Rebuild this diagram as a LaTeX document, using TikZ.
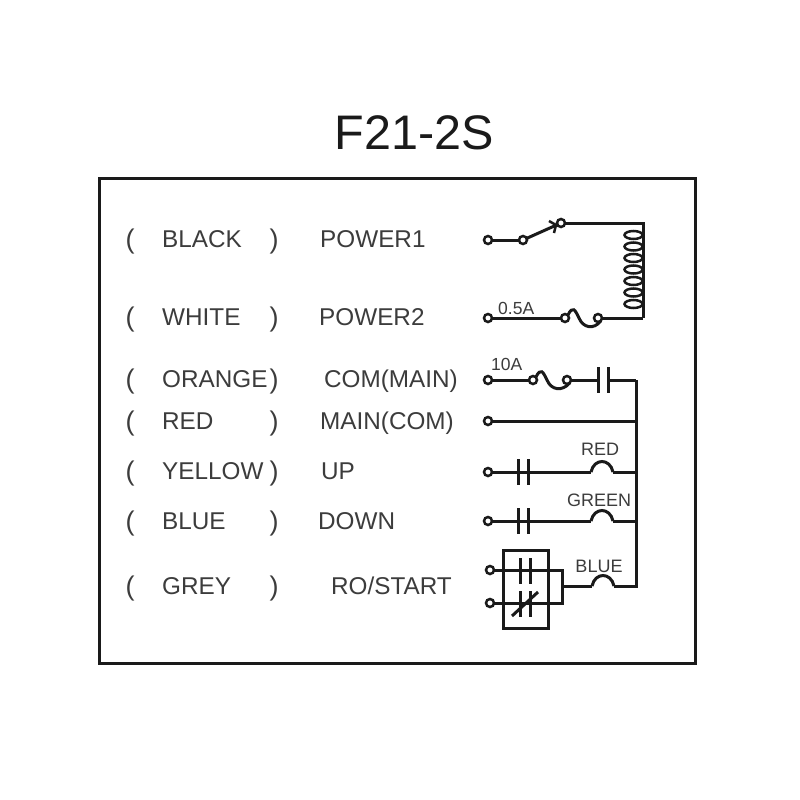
\documentclass[tikz,border=0pt]{standalone}
\usepackage{fontspec}
\setmainfont{Liberation Sans}
\definecolor{ink}{HTML}{1A1A1A}
\definecolor{txt}{HTML}{3C3C3C}
\tikzset{
  x=1pt,y=-1pt,
  wire/.style={draw=ink,line width=3pt,line join=miter},
  thin wire/.style={draw=ink,line width=2.5pt},
  term/.style={circle,draw=ink,fill=white,line width=2.5pt,minimum size=8pt,inner sep=0pt,outer sep=0pt},
  lab/.style={text=txt,font=\fontsize{24.3}{26}\selectfont,inner sep=0pt,anchor=base},
  paren/.style={text=txt,font=\fontsize{27}{29}\selectfont,inner sep=0pt,anchor=base},
  small/.style={text=txt,font=\fontsize{18}{20}\selectfont,inner sep=0pt,anchor=base},
  tiny/.style={text=txt,font=\fontsize{17.5}{19}\selectfont,inner sep=0pt,anchor=base west},
}
\newcommand{\capat}[2]{%
  \draw[wire] (#1-5,#2-13) -- (#1-5,#2+13);
  \draw[wire] (#1+5,#2-13) -- (#1+5,#2+13);}
\newcommand{\bumpat}[2]{%
  \draw[wire,fill=white] (#1,#2) .. controls (#1+3,#2-14) and (#1+19,#2-14) .. (#1+22,#2);}
\begin{document}
\begin{tikzpicture}
\useasboundingbox (0,0) rectangle (800,800);
\fill[white] (0,0) rectangle (800,800);
\node[text=ink,font=\fontsize{48.5}{52}\selectfont,inner sep=0pt,anchor=base] (title) at (414,149) {F21-2S};
\draw[draw=ink,line width=3pt] (99,178) rectangle (695,663);
\foreach \n/\y in {a/248,b/326,c/388,d/430,e/480,f/530,g/595}{
  \node[paren] (lp\n) at (130,\y) {(};
  \node[paren] (rp\n) at (274,\y) {)};
}
\node[lab,anchor=base west] (c1) at (162,247) {BLACK};
\node[lab,anchor=base west] (c2) at (162,325) {WHITE};
\node[lab,anchor=base west] (c3) at (162,387) {ORANGE};
\node[lab,anchor=base west] (c4) at (162,429) {RED};
\node[lab,anchor=base west] (c5) at (162,479) {YELLOW};
\node[lab,anchor=base west] (c6) at (162,529) {BLUE};
\node[lab,anchor=base west] (c7) at (162,594) {GREY};
\node[lab,anchor=base west] (n1) at (320,247) {POWER1};
\node[lab,anchor=base west] (n2) at (319,325) {POWER2};
\node[lab,anchor=base west] (n3) at (324,387) {COM(MAIN)};
\node[lab,anchor=base west] (n4) at (320,429) {MAIN(COM)};
\node[lab,anchor=base west] (n5) at (321,479) {UP};
\node[lab,anchor=base west] (n6) at (318,529) {DOWN};
\node[lab,anchor=base west] (n7) at (331,594) {RO/START};
% small labels
\node[tiny] (l05) at (498,314) {0.5A};
\node[tiny] (l10) at (491,370) {10A};
\node[small] (lred) at (600,455) {RED};
\node[small] (lgreen) at (599,506) {GREEN};
\node[small] (lblue) at (599,572) {BLUE};
% corners
\coordinate (tr) at (643,223);
\coordinate (br) at (643,318);
\coordinate (busT) at (636,380);
\coordinate (busB) at (636,586);
% Row 1: switch and coil
\node[term] (t1) at (488,240) {};
\node[term] (t1b) at (523,240) {};
\node[term] (t1c) at (561,223) {};
\draw[wire] (t1) -- (t1b);
\draw[wire] (t1b) -- (t1c);
\draw[thin wire] (549,221) -- (556,225) -- (554,233);
\draw[wire] (t1c) -- (tr) -- (br);
\foreach \y in {235,246.5,258,269.5,281,292.5,304}{
  \draw[thin wire] (633.5,\y) ellipse (9 and 4);
}
% Row 2: fuse
\node[term] (t2) at (488,318) {};
\node[term] (f2a) at (565,318) {};
\node[term] (f2b) at (598,318) {};
\draw[wire] (t2) -- (f2a);
\draw[wire] (f2b) -- (br);
\draw[wire] (f2a.north east) .. controls (573,305) and (575,310) .. (579,318) .. controls (583,328) and (594,330) .. (f2b.south east);
% Row 3: fuse and capacitor
\node[term] (t3) at (488,380) {};
\node[term] (f3a) at (533,380) {};
\node[term] (f3b) at (567,380) {};
\draw[wire] (t3) -- (f3a);
\draw[wire] (f3a.north east) .. controls (541,367) and (543,372) .. (547,380) .. controls (551,390) and (562,392) .. (f3b.south east);
\draw[wire] (f3b) -- (598,380);
\capat{603}{380}
\draw[wire] (608,380) -- (busT);
\draw[wire] (busT) -- (busB) -- (614,586);
% Row 4
\node[term] (t4) at (488,421) {};
\draw[wire] (t4) -- (636,421);
% Row 5
\node[term] (t5) at (488,472) {};
\draw[wire] (t5) -- (591,472);
\capat{523}{472}
\bumpat{591}{472}
\draw[wire] (613,472) -- (636,472);
% Row 6
\node[term] (t6) at (488,521) {};
\draw[wire] (t6) -- (591,521);
\capat{523}{521}
\bumpat{591}{521}
\draw[wire] (613,521) -- (636,521);
% Row 7
\draw[wire] (503,550) rectangle (548,628);
\node[term] (t7) at (490,570) {};
\node[term] (t8) at (490,603) {};
\draw[wire] (t7) -- (562,570) -- (562,603) -- (t8);
\draw[wire] (562,586) -- (592,586);
\bumpat{592}{586}
\draw[wire] (520,558) -- (520,584);
\draw[wire] (530,558) -- (530,584);
\draw[wire] (520,591) -- (520,617);
\draw[wire] (530,591) -- (530,617);
\draw[wire] (512,616) -- (538,592);
\end{tikzpicture}
\end{document}
